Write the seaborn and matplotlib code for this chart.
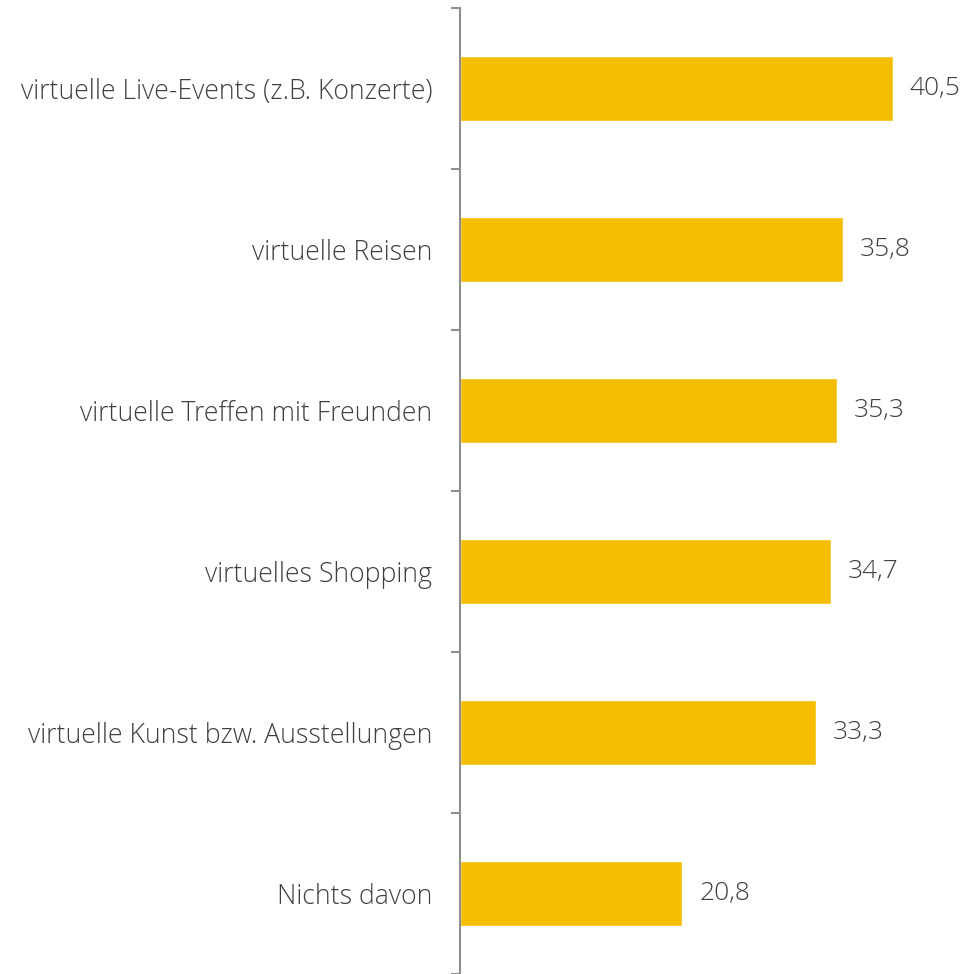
import matplotlib
matplotlib.use("Agg")
import matplotlib.pyplot as plt
import seaborn as sns
import numpy as np
import pandas as pd

categories = [
    "virtuelle Live-Events (z.B. Konzerte)",
    "virtuelle Reisen",
    "virtuelle Treffen mit Freunden",
    "virtuelles Shopping",
    "virtuelle Kunst bzw. Ausstellungen",
    "Nichts davon",
]
values = [40.5, 35.8, 35.3, 34.7, 33.3, 20.8]
value_labels = ["40,5", "35,8", "35,3", "34,7", "33,3", "20,8"]

sns.set_theme(style="white")
plt.rcParams["font.family"] = ["Open Sans", "DejaVu Sans"]

BAR = "#F5BE00"
TXT = "#404040"
AXC = "#8f8f8f"

df = pd.DataFrame({"cat": categories, "val": values})

fig = plt.figure(figsize=(9.76, 9.74), dpi=100)
ax = fig.add_axes([460 / 976, 0.0, 1 - 460 / 976, 1 - 8 / 974])

sns.barplot(data=df, x="val", y="cat", orient="h", color=BAR, width=0.4,
            saturation=1, ax=ax)

ax.set_xlim(0, 516 / 10.69)
ax.set_ylim(5.5, -0.5)
ax.set_xlabel("")
ax.set_ylabel("")
ax.set_xticks([])

for s in ["top", "right", "bottom"]:
    ax.spines[s].set_visible(False)
ax.spines["left"].set_color(AXC)
ax.spines["left"].set_linewidth(1.5)

ax.set_yticks(np.arange(-0.5, 6, 1), minor=True)
ax.tick_params(axis="y", which="minor", length=6.5, width=1.5, color=AXC, left=True)
ax.tick_params(axis="y", which="major", length=0, pad=20)
for lbl in ax.get_yticklabels():
    lbl.set_fontsize(19.2)
    lbl.set_color(TXT)
    lbl.set_fontweight("light")

ax.bar_label(ax.containers[0], labels=value_labels, padding=12,
             fontsize=19, color=TXT, fontweight="light")

fig.savefig("out.png", dpi=100)
